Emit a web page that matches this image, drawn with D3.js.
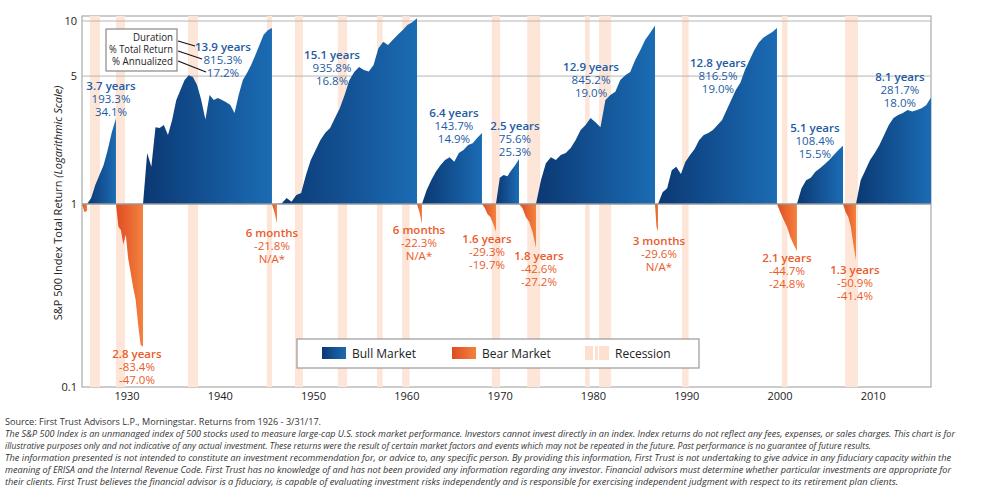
<!DOCTYPE html>
<html>
<head>
<meta charset="utf-8">
<script src="https://cdn.jsdelivr.net/npm/d3@7"></script>
<style>
body { margin:0; background:#fff; }
text { font-family: "Open Sans", "DejaVu Sans", sans-serif; }
</style>
</head>
<body>
<svg id="chart" width="982" height="492"></svg>
<script>
// markets: start / end year (on the chart's own time axis) and sampled index values
var bullStart = [1925.72, 1931.72, 1946.08, 1961.62, 1969.55, 1973.84, 1986.92, 2001.81, 2008.14]
var bullEnd   = [1928.82, 1945.54, 1961.09, 1968.05, 1972.02, 1986.6, 1999.67, 2006.75, 2016.18]
var bullValues = [
  [1, 1.08, 1.27, 1.44, 1.63, 1.97, 2.47, 2.93],
  [1, 1.9, 1.6, 2.63, 2.6, 2.7, 2.38, 2.88, 3.7, 4.2, 4.76, 5.06, 4.94, 4.47, 3.7, 2.9, 3.94, 3.7, 3.8, 3.7, 3.6, 3.47, 3.14, 3.94, 4.76, 5.2, 5.75, 6.5, 7.4, 8.4, 8.9, 9.15],
  [1, 1.01, 1.08, 1.03, 1.12, 1.15, 1.44, 1.74, 1.97, 2.24, 2.45, 2.6, 2.95, 3.34, 3.94, 4.76, 5.27, 5.6, 5.4, 5.3, 5.75, 7.1, 7.7, 7.4, 7.9, 8.4, 8.9, 9.5, 9.85, 10.36],
  [1, 1.19, 1.35, 1.5, 1.63, 1.74, 1.8, 1.7, 1.9, 1.97, 2.1, 2.15, 2.3, 2.44],
  [1, 1.39, 1.44, 1.42, 1.53, 1.63, 1.76],
  [1, 1.35, 1.67, 1.8, 1.74, 1.85, 1.9, 2.02, 2.24, 2.54, 2.7, 2.95, 2.8, 2.63, 3.7, 3.94, 4.1, 4.76, 5.06, 5.27, 6.13, 6.9, 7.87, 8.6, 9.45],
  [1, 1.16, 1.22, 1.53, 1.6, 1.46, 1.7, 1.85, 2.0, 2.24, 2.38, 2.44, 2.54, 2.7, 2.88, 3.26, 3.7, 4.2, 4.6, 5.4, 6.1, 6.9, 7.6, 8.1, 8.4, 8.7, 9.165],
  [1, 1.22, 1.35, 1.39, 1.5, 1.57, 1.65, 1.74, 1.85, 1.97, 2.08],
  [1, 1.35, 1.53, 1.74, 1.9, 2.1, 2.38, 2.7, 2.95, 3.06, 3.14, 3.26, 3.2, 3.26, 3.34, 3.47, 3.82]
]
var bearStart = [1925.18, 1928.82, 1945.54, 1961.09, 1968.05, 1972.02, 1986.6, 1999.67, 2006.75]
var bearEnd   = [1925.72, 1931.72, 1946.08, 1961.62, 1969.55, 1973.84, 1986.92, 2001.81, 2008.14]
var bearValues = [
  [1, 0.9, 0.92],
  [1, 0.75, 0.72, 0.6, 0.68, 0.5, 0.42, 0.35, 0.30, 0.22, 0.17, 0.166],
  [1, 0.9, 0.782],
  [1, 0.9, 0.777],
  [1, 0.95, 0.88, 0.85, 0.78, 0.707],
  [1, 0.95, 0.85, 0.8, 0.7, 0.574],
  [1, 0.75, 0.704],
  [1, 0.9, 0.82, 0.75, 0.66, 0.6, 0.553],
  [1, 0.9, 0.85, 0.75, 0.6, 0.491]
]
var recessions = [[1926.03,1927.1],[1928.82,1929.79],[1936.54,1937.61],[1945.0,1945.54],[1948.0,1948.86],
  [1952.6,1953.6],[1956.8,1957.4],[1959.5,1960.3],[1969.1,1970.0],[1972.9,1974.3],[1979.1,1979.6],
  [1980.6,1981.9],[1989.5,1990.2],[2000.2,2000.8],[2006.96,2008.35]]

var bullLabels = [
  ["3.7 years","193.3%","34.1%"], ["13.9 years","815.3%","17.2%"], ["15.1 years","935.8%","16.8%"],
  ["6.4 years","143.7%","14.9%"], ["2.5 years","75.6%","25.3%"], ["12.9 years","845.2%","19.0%"],
  ["12.8 years","816.5%","19.0%"], ["5.1 years","108.4%","15.5%"], ["8.1 years","281.7%","18.0%"]]
var bullLabelPos = [[1928.29,4.2],[1940.29,6.85],[1951.98,6.2],[1965.05,2.99],[1971.59,2.54],[1979.74,5.33],[1993.35,5.6],[2003.74,2.47],[2012.85,4.7]]
var bearLabels = [
  null, ["2.8 years","-83.4%","-47.0%"], ["6 months","-21.8%","N/A*"], ["6 months","-22.3%","N/A*"],
  ["1.6 years","-29.3%","-19.7%"], ["1.8 years","-42.6%","-27.2%"], ["3 months","-29.6%","N/A*"],
  ["2.1 years","-44.7%","-24.8%"], ["1.3 years","-50.9%","-41.4%"]]
var bearLabelPos = [null,[1931.07,0.144],[1945.54,0.66],[1961.3,0.686],[1968.59,0.612],[1974.16,0.494],[1987.02,0.597],[2000.74,0.482],[2008.03,0.415]]

var yTicks = [0.1, 1, 5, 10]
var xTicks = [1930, 1940, 1950, 1960, 1970, 1980, 1990, 2000, 2010]

var footer = [
  "Source: First Trust Advisors L.P., Morningstar. Returns from 1926 - 3/31/17.",
  "The S&P 500 Index is an unmanaged index of 500 stocks used to measure large-cap U.S. stock market performance. Investors cannot invest directly in an index. Index returns do not reflect any fees, expenses, or sales charges. This chart is for",
  "illustrative purposes only and not indicative of any actual investment. These returns were the result of certain market factors and events which may not be repeated in the future. Past performance is no guarantee of future results.",
  "The information presented is not intended to constitute an investment recommendation for, or advice to, any specific person. By providing this information, First Trust is not undertaking to give advice in any fiduciary capacity within the",
  "meaning of ERISA and the Internal Revenue Code. First Trust has no knowledge of and has not been provided any information regarding any investor. Financial advisors must determine whether particular investments are appropriate for",
  "their clients. First Trust believes the financial advisor is a fiduciary, is capable of evaluating investment risks independently and is responsible for exercising independent judgment with respect to its retirement plan clients."
]
var footerWidth = [316, 950, 866, 946, 946, 893]

var blue = "#1d5ba3", orange = "#ea5b2a"
var svg = d3.select("#chart")

var x = d3.scaleLinear().domain([1925.18, 2016.18]).range([82, 931])
var y = d3.scaleLog().domain([0.1, 10]).range([387, 21])

var defs = svg.append("defs")
var gb = defs.append("linearGradient").attr("id", "bullGrad")
gb.append("stop").attr("offset", "0%").attr("stop-color", "#0b3873")
gb.append("stop").attr("offset", "100%").attr("stop-color", "#1b6cb4")
var go = defs.append("linearGradient").attr("id", "bearGrad")
go.append("stop").attr("offset", "0%").attr("stop-color", "#df4c22")
go.append("stop").attr("offset", "100%").attr("stop-color", "#f3823f")

// plot frame
svg.append("rect").attr("x", 82).attr("y", 16).attr("width", 849).attr("height", 371)
  .attr("fill", "none").attr("stroke", "#aaa").attr("stroke-width", 1.2)

// recessions
svg.selectAll(".rec").data(recessions).join("rect")
  .attr("x", d => x(d[0])).attr("width", d => x(d[1]) - x(d[0]))
  .attr("y", 16).attr("height", 371).attr("fill", "#fde6d8")

// gridlines
svg.selectAll(".grid").data([10, 5]).join("line")
  .attr("x1", 82).attr("x2", 931).attr("y1", d => y(d)).attr("y2", d => y(d))
  .attr("stroke", "#b5b5b5").attr("stroke-width", 1)

function series(s, e, vals) {
  return vals.map((v, i) => [s + (e - s) * i / (vals.length - 1), v])
}
var area = d3.area().x(d => x(d[0])).y0(y(1)).y1(d => y(d[1]))

bullValues.forEach(function(vals, i) {
  svg.append("path").attr("d", area(series(bullStart[i], bullEnd[i], vals)))
    .attr("fill", "url(#bullGrad)")
})
bearValues.forEach(function(vals, i) {
  svg.append("path").attr("d", area(series(bearStart[i], bearEnd[i], vals)))
    .attr("fill", "url(#bearGrad)")
})

// baseline
svg.append("line").attr("x1", 82).attr("x2", 931).attr("y1", y(1)).attr("y2", y(1))
  .attr("stroke", "#999").attr("stroke-width", 1.5)

// axes labels
svg.selectAll(".yt").data(yTicks).join("text")
  .attr("x", 77).attr("y", d => y(d) + 4).attr("text-anchor", "end")
  .attr("font-size", 11).attr("fill", "#222").text(d => d)
svg.selectAll(".xt").data(xTicks).join("text")
  .attr("x", d => x(d)).attr("y", 400).attr("text-anchor", "middle")
  .attr("font-size", 11).attr("fill", "#222").text(d => d)

var yt = svg.append("text").attr("transform", "translate(62,203) rotate(-90)")
  .attr("text-anchor", "middle").attr("font-size", 11).attr("fill", "#222")
yt.append("tspan").text("S&P 500 Index Total Return ")
yt.append("tspan").attr("font-style", "italic").text("(Logarithmic Scale)")

function stack(lines, cx, cy, color) {
  var t = svg.append("text").attr("text-anchor", "middle").attr("font-size", 11.5).attr("fill", color)
  lines.forEach(function(l, k) {
    t.append("tspan").attr("x", cx).attr("y", cy + k * 13).attr("font-weight", k == 0 ? 600 : 400).text(l)
  })
}
bullLabels.forEach((l, i) => stack(l, x(bullLabelPos[i][0]), y(bullLabelPos[i][1]), blue))
bearLabels.forEach(function(l, i) { if (l) stack(l, x(bearLabelPos[i][0]), y(bearLabelPos[i][1]), orange) })

// key box
svg.append("rect").attr("x", 106).attr("y", 29).attr("width", 71).attr("height", 42)
  .attr("fill", "#fff").attr("stroke", "#888").attr("stroke-width", 1.2)
var keyText = ["Duration", "% Total Return", "% Annualized"]
var keyWidth = [40, 64, 61]
svg.selectAll(".kt").data(keyText).join("text")
  .attr("x", 173).attr("y", (d, i) => 41 + i * 12).attr("text-anchor", "end")
  .attr("font-size", 10).attr("fill", "#222")
  .attr("textLength", (d, i) => keyWidth[i]).attr("lengthAdjust", "spacingAndGlyphs")
  .text(d => d)
var leaders = [[178, 41, 195, 46], [178, 51, 202, 59], [178, 61, 206, 72]]
svg.selectAll(".ld").data(leaders).join("line")
  .attr("x1", d => d[0]).attr("y1", d => d[1]).attr("x2", d => d[2]).attr("y2", d => d[3])
  .attr("stroke", "#111").attr("stroke-width", 1.2)

// legend
svg.append("rect").attr("x", 297).attr("y", 339).attr("width", 402).attr("height", 29)
  .attr("fill", "#fff").attr("stroke", "#999").attr("stroke-width", 1.2)
svg.append("rect").attr("x", 322).attr("y", 347).attr("width", 24).attr("height", 12).attr("fill", "url(#bullGrad)")
svg.append("text").attr("x", 352).attr("y", 358).attr("font-size", 12).attr("fill", "#222").text("Bull Market")
svg.append("rect").attr("x", 452).attr("y", 347).attr("width", 24).attr("height", 12).attr("fill", "url(#bearGrad)")
svg.append("text").attr("x", 482).attr("y", 358).attr("font-size", 12).attr("fill", "#222").text("Bear Market")
;[585, 595, 599].forEach(function(px, i) {
  svg.append("rect").attr("x", px).attr("y", 346).attr("width", i == 0 ? 8 : (i == 1 ? 3 : 10)).attr("height", 14).attr("fill", "#fde0d0")
})
svg.append("text").attr("x", 615).attr("y", 358).attr("font-size", 12).attr("fill", "#222").text("Recession")

// footer
svg.selectAll(".ft").data(footer).join("text")
  .attr("x", 5).attr("y", (d, i) => 425 + i * 12)
  .attr("font-size", 9).attr("font-style", (d, i) => i == 0 ? "normal" : "italic")
  .attr("fill", "#333")
  .attr("textLength", (d, i) => footerWidth[i]).attr("lengthAdjust", "spacingAndGlyphs")
  .text(d => d)
</script>
</body>
</html>
